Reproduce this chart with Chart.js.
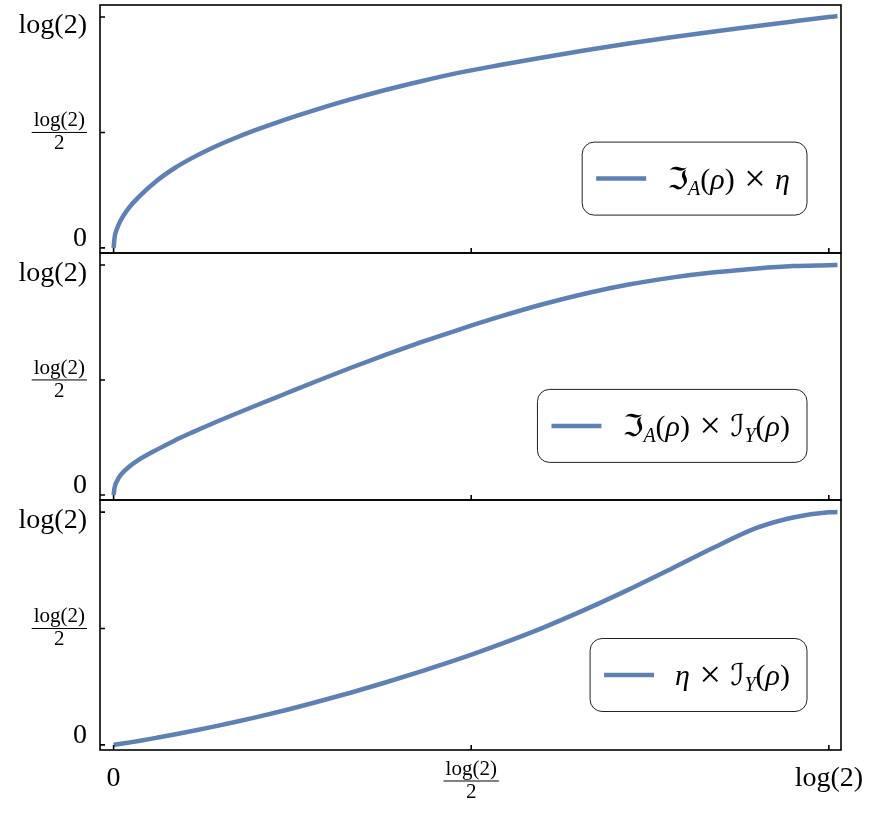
<!DOCTYPE html>
<html>
<head>
<meta charset="utf-8">
<script src="https://cdn.jsdelivr.net/npm/chart.js@4/dist/chart.umd.min.js"></script>
<style>
  body { margin: 0; background: #fff; }
  #wrap { position: relative; width: 886px; height: 820px; }
  #wrap canvas { position: absolute; left: 0; top: 0; }
</style>
</head>
<body>
<div id="wrap">
  <canvas id="c1" width="886" height="820"></canvas>
  <canvas id="c2" width="886" height="820"></canvas>
  <canvas id="c3" width="886" height="820"></canvas>
</div>
<script>
const LN2 = Math.log(2);

// x positions, in units of log(2)
const xFrac = [0, 0.0015, 0.005, 0.01, 0.02, 0.035, 0.06, 0.085, 0.11, 0.14, 0.17, 0.2, 0.24, 0.28,
  0.33, 0.38, 0.43, 0.48, 0.54, 0.6, 0.66, 0.72, 0.78, 0.84, 0.9, 0.95, 1.0, 1.012];

// curve values, in units of log(2)
const iaEta = [0, 0.047, 0.085, 0.12, 0.168, 0.22, 0.29, 0.345, 0.39, 0.436, 0.476, 0.512, 0.556, 0.596,
  0.642, 0.684, 0.722, 0.757, 0.792, 0.825, 0.856, 0.885, 0.912, 0.937, 0.961, 0.981, 1.0, 1.004];
const iaIy = [0, 0.034, 0.062, 0.087, 0.118, 0.152, 0.196, 0.236, 0.272, 0.313, 0.352, 0.39, 0.44, 0.49,
  0.551, 0.609, 0.664, 0.716, 0.775, 0.829, 0.876, 0.915, 0.945, 0.968, 0.985, 0.995, 0.999, 1.0];
const etaIy = [0, 0.0007, 0.0024, 0.0047, 0.0094, 0.0167, 0.0303, 0.0446, 0.0596, 0.0785, 0.0983, 0.1193, 0.149, 0.181,
  0.223, 0.268, 0.316, 0.366, 0.432, 0.503, 0.582, 0.667, 0.757, 0.849, 0.933, 0.977, 0.999, 1.0];

// ticks (same on both axes), in units of log(2)
const tickFrac = [0, 0.5, 1];
const tickLabels = ['0', 'log(2)/2', 'log(2)'];

// legend texts: [text, italic, subscript, big]
const legendTop = [['ℑ'], ['A', 1, 1], ['('], ['ρ', 1], [')'], [' × ', 0, 0, 1], ['η', 1]];
const legendMid = [['ℑ'], ['A', 1, 1], ['('], ['ρ', 1], [')'], [' × ', 0, 0, 1], ['ℐ'], ['Y', 1, 1], ['('], ['ρ', 1], [')']];
const legendBot = [['η', 1], [' × ', 0, 0, 1], ['ℐ'], ['Y', 1, 1], ['('], ['ρ', 1], [')']];

const LINE = 'rgb(94,129,181)';
const FAM = '"Liberation Serif", "DejaVu Serif", "DejaVu Sans", serif';

function segFont(s) {
  const size = s[2] ? 20 : (s[3] ? 38 : 30);
  return (s[1] ? 'italic ' : '') + size + 'px ' + FAM;
}

function drawFraction(ctx, text, cx, barY) {
  const [num, den] = text.split('/');
  ctx.font = '21px ' + FAM;
  const w = ctx.measureText(num).width + 4;
  ctx.textAlign = 'center';
  ctx.textBaseline = 'alphabetic';
  ctx.fillText(num, cx, barY - 6);
  ctx.fillText(den, cx, barY + 17);
  ctx.lineWidth = 1;
  ctx.beginPath();
  ctx.moveTo(cx - w / 2, barY);
  ctx.lineTo(cx + w / 2, barY);
  ctx.stroke();
}

function drawLegend(ctx, a, segs) {
  let tw = 0;
  segs.forEach(s => { ctx.font = segFont(s); tw += ctx.measureText(s[0]).width; });
  const boxW = 14 + 50 + 21 + tw + 17, boxH = 73;
  const right = a.right - 34;
  const left = right - boxW;
  const cy = a.top + 0.70 * (a.bottom - a.top);
  ctx.beginPath();
  ctx.roundRect(left, cy - boxH / 2, boxW, boxH, 12);
  ctx.fillStyle = '#fff';
  ctx.fill();
  ctx.lineWidth = 1;
  ctx.strokeStyle = '#222';
  ctx.stroke();
  ctx.beginPath();
  ctx.moveTo(left + 14, cy);
  ctx.lineTo(left + 64, cy);
  ctx.lineWidth = 4.5;
  ctx.strokeStyle = LINE;
  ctx.stroke();
  ctx.fillStyle = '#000';
  ctx.textAlign = 'left';
  ctx.textBaseline = 'alphabetic';
  let x = left + 85;
  segs.forEach(s => {
    ctx.font = segFont(s);
    ctx.fillText(s[0], x, cy + 10 + (s[2] ? 6 : 0) + (s[3] ? 2 : 0));
    x += ctx.measureText(s[0]).width;
  });
}

const framePlugin = {
  id: 'frame',
  afterDraw(chart, args, opts) {
    const { ctx, chartArea: a } = chart;
    const xs = chart.scales.x, ys = chart.scales.y;
    ctx.save();
    ctx.strokeStyle = '#000';
    ctx.fillStyle = '#000';
    ctx.lineWidth = 1.6;
    ctx.strokeRect(a.left, a.top, a.right - a.left, a.bottom - a.top);

    // inward ticks on the left and bottom edges
    tickFrac.forEach(f => {
      const py = ys.getPixelForValue(f * LN2);
      const px = xs.getPixelForValue(f * LN2);
      ctx.beginPath();
      ctx.moveTo(a.left, py); ctx.lineTo(a.left + 5, py);
      ctx.moveTo(px, a.bottom); ctx.lineTo(px, a.bottom - 5);
      ctx.stroke();
    });

    // y tick labels
    tickFrac.forEach((f, i) => {
      const py = ys.getPixelForValue(f * LN2);
      const lab = tickLabels[i];
      if (lab.includes('/')) {
        ctx.font = '21px ' + FAM;
        const w = ctx.measureText(lab.split('/')[0]).width + 4;
        drawFraction(ctx, lab, a.left - 13 - w / 2, py);
      } else {
        ctx.font = '28px ' + FAM;
        ctx.textAlign = 'right';
        ctx.textBaseline = 'alphabetic';
        ctx.fillText(lab, a.left - 13, py + (lab === '0' ? -2 : 16));
      }
    });

    // x tick labels on the bottom panel only
    if (opts.showX) {
      tickFrac.forEach((f, i) => {
        const px = xs.getPixelForValue(f * LN2);
        const lab = tickLabels[i];
        if (lab.includes('/')) {
          drawFraction(ctx, lab, px, a.bottom + 31);
        } else {
          ctx.font = '28px ' + FAM;
          ctx.textAlign = 'center';
          ctx.textBaseline = 'alphabetic';
          ctx.fillText(lab, px, a.bottom + 36);
        }
      });
    }

    drawLegend(ctx, a, opts.legend);
    ctx.restore();
  }
};

function makePanel(id, values, top, bottom, legend, showX) {
  const pts = xFrac.map((f, i) => ({ x: f * LN2, y: values[i] * LN2 }));
  return new Chart(document.getElementById(id), {
    type: 'line',
    data: {
      datasets: [{
        data: pts,
        borderColor: LINE,
        borderWidth: 4.5,
        pointRadius: 0,
        fill: false,
        cubicInterpolationMode: 'monotone'
      }]
    },
    options: {
      responsive: false,
      animation: false,
      events: [],
      layout: { padding: { left: 100, right: 45, top: top, bottom: 820 - bottom } },
      plugins: {
        legend: { display: false },
        tooltip: { enabled: false },
        frame: { legend: legend, showX: showX }
      },
      scales: {
        x: { type: 'linear', display: false, min: -0.019 * LN2, max: 1.017 * LN2 },
        y: { type: 'linear', display: false, min: -0.022 * LN2, max: 1.052 * LN2 }
      }
    },
    plugins: [framePlugin]
  });
}

makePanel('c1', iaEta, 5, 253, legendTop, false);
makePanel('c2', iaIy, 253, 500, legendMid, false);
makePanel('c3', etaIy, 500, 750, legendBot, true);
</script>
</body>
</html>
